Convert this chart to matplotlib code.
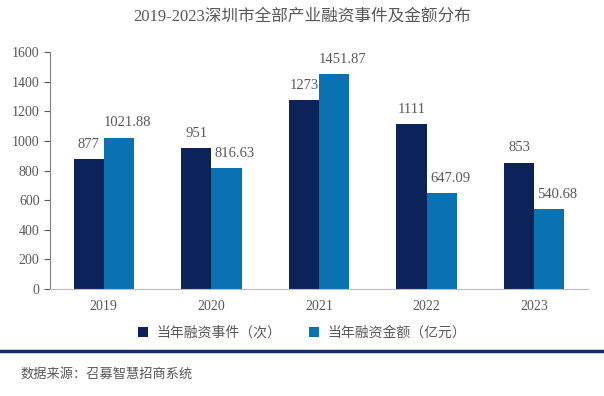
import matplotlib
matplotlib.use("Agg")
import matplotlib.pyplot as plt
import numpy as np
from matplotlib.lines import Line2D

years = ["2019", "2020", "2021", "2022", "2023"]
events = [877, 951, 1273, 1111, 853]
amounts = [1021.88, 816.63, 1451.87, 647.09, 540.68]
event_labels = ["877", "951", "1273", "1111", "853"]
amount_labels = ["1021.88", "816.63", "1451.87", "647.09", "540.68"]
yticks = [0, 200, 400, 600, 800, 1000, 1200, 1400, 1600]

FAM = ["Liberation Serif", "Noto Sans CJK SC", "DejaVu Sans"]
plt.rcParams["font.family"] = FAM
GRAY = "#595959"
DARK = "#0c2359"
LIGHT = "#0a72b0"

fig = plt.figure(figsize=(6.04, 3.96), dpi=100)
ax = fig.add_axes([50/604, 1-289/396, 538/604, 237/396])

x = np.arange(len(years))
w = 0.28
b1 = ax.bar(x - w/2, events, w, color=DARK, label="当年融资事件（次）")
b2 = ax.bar(x + w/2, amounts, w, color=LIGHT, label="当年融资金额（亿元）")
for r, t in zip(b1, event_labels):
    ax.annotate(t, (r.get_x() + r.get_width()/2, r.get_height()), xytext=(0, 6),
                textcoords="offset points", ha="center", va="bottom",
                fontsize=10.5, color=GRAY)
for r, t in zip(b2, amount_labels):
    ax.annotate(t, (r.get_x() + r.get_width()/2, r.get_height()), xytext=(6, 6),
                textcoords="offset points", ha="center", va="bottom",
                fontsize=10.5, color=GRAY)

ax.set_xlim(-0.5, len(years) - 0.5)
ax.set_ylim(0, 1600)
ax.set_yticks(yticks)
ax.set_xticks(x)
ax.set_xticklabels(years)
ax.tick_params(axis="y", colors=GRAY, labelsize=10, direction="out", length=4, width=0.8)
ax.tick_params(axis="x", colors=GRAY, labelsize=10, length=0, pad=8)
for s in ["top", "right"]:
    ax.spines[s].set_visible(False)
ax.spines["left"].set_color("#7f7f7f")
ax.spines["bottom"].set_color("#bfbfbf")

fig.text(0.5, 1-17/396, "2019-2023深圳市全部产业融资事件及金额分布", ha="center", va="center",
         fontsize=12, color=GRAY)

leg = fig.legend(handles=[b1, b2], loc="center", bbox_to_anchor=(0.5, 1-333/396), ncol=2,
                 frameon=False, fontsize=10, handlelength=0.7, handleheight=0.7,
                 columnspacing=2.0, handletextpad=0.6)
for t in leg.get_texts():
    t.set_color(GRAY)

fig.add_artist(Line2D([0, 1], [1-351/396, 1-351/396], transform=fig.transFigure,
                      color="#14286a", linewidth=2.5))
fig.text(20/604, 1-374/396, "数据来源：召募智慧招商系统", ha="left", va="center",
         fontsize=9.5, color=GRAY)

fig.savefig("out.png", dpi=100)
